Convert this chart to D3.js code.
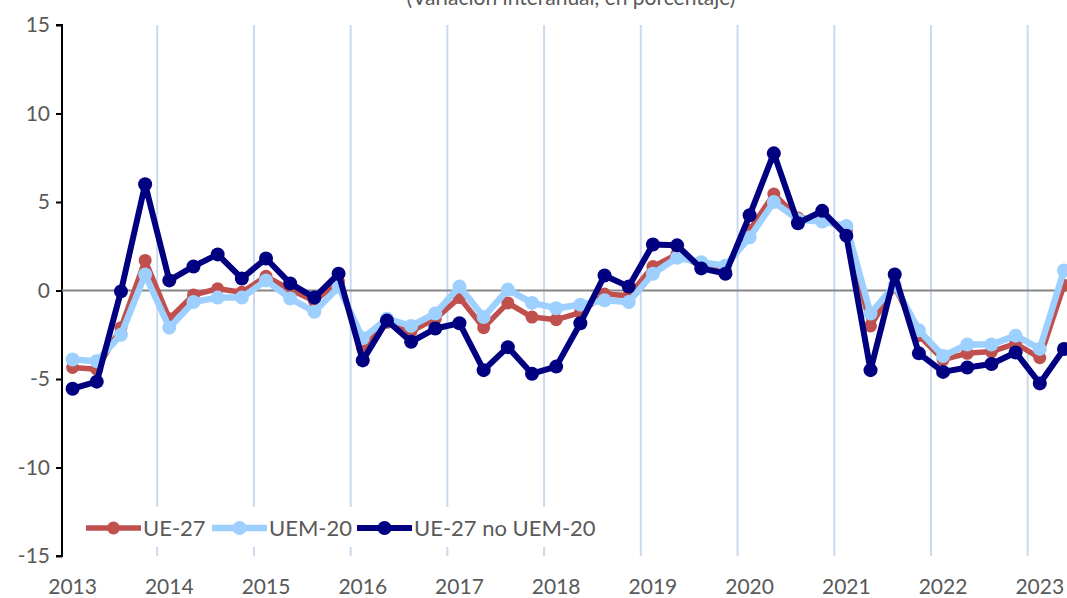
<!DOCTYPE html>
<html lang="es">
<head>
  <meta charset="utf-8">
  <title>UE-27 / UEM-20</title>
  <script src="https://d3js.org/d3.v7.min.js"></script>
  <style>
    body { margin: 0; background: #fff; }
    text { font-family: Lato, "Open Sans", sans-serif; fill: #595959; }
  </style>
</head>
<body>
  <script type="text/javascript">
  // trimestres 2013T1 .. 2023T2
  var years = ["2013","2014","2015","2016","2017","2018","2019","2020","2021","2022","2023"];
  var quarters = [];
  years.forEach(function(y){
    for (var q = 1; q <= 4; q++) quarters.push(y + "T" + q);
  });
  quarters = quarters.slice(0, 42);

  var ue27 = [-4.35,-4.45,-2.1,1.7,-1.6,-0.25,0.1,-0.1,0.8,0.05,-0.6,0.5,
              -3.3,-1.8,-2.3,-1.6,-0.4,-2.1,-0.7,-1.5,-1.65,-1.25,-0.2,-0.3,
              1.35,2.05,1.4,1.2,3.4,5.45,4.1,4.05,3.4,-2.0,0.2,-2.55,
              -3.9,-3.55,-3.45,-3.0,-3.8,0.3];
  var uem20 = [-3.9,-4.0,-2.5,0.9,-2.1,-0.65,-0.4,-0.4,0.57,-0.45,-1.2,0.2,
               -2.7,-1.6,-2.0,-1.3,0.22,-1.5,0.05,-0.7,-1.0,-0.8,-0.55,-0.65,
               0.95,1.85,1.6,1.4,3.0,5.0,4.0,3.9,3.65,-1.3,0.3,-2.25,
               -3.7,-3.05,-3.05,-2.55,-3.3,1.13];
  var ue27noUem = [-5.55,-5.15,-0.05,6.0,0.57,1.36,2.04,0.68,1.81,0.4,-0.4,0.95,
                   -3.95,-1.7,-2.9,-2.15,-1.85,-4.5,-3.2,-4.7,-4.3,-1.85,0.85,0.22,
                   2.6,2.55,1.25,0.95,4.25,7.75,3.8,4.5,3.1,-4.5,0.9,-3.55,
                   -4.6,-4.35,-4.15,-3.5,-5.25,-3.3];
  var seriesNames = ["UE-27","UEM-20","UE-27 no UEM-20"];
  var seriesColors = ["#C0504D","#9DCFFF","#000080"];
  var yTicks = [-15,-10,-5,0,5,10,15];

  var w = 1067;
  var h = 598;
  var left = 62;
  var step = 24.18;

  var svg = d3.select("body")
    .append("svg")
    .attr("width", w)
    .attr("height", h);

  var x = d3.scaleBand()
    .domain(quarters)
    .range([left - 1.5, left - 1.5 + quarters.length * step]);

  var y = d3.scaleLinear()
    .domain([-15, 15])
    .range([556, 25]);

  function cx(q){ return x(q) + x.bandwidth() / 2; }

  // titulo (cortado arriba)
  svg.append("text")
    .text("(Variación interanual, en porcentaje)")
    .attr("x", 571)
    .attr("y", 5)
    .attr("text-anchor", "middle")
    .attr("font-size", "21px");

  // lineas verticales de separacion de años
  svg.selectAll(".vgrid")
    .data(quarters.filter(function(q, i){ return i > 0 && i % 4 == 0; }))
    .enter()
    .append("line")
    .attr("class", "vgrid")
    .attr("x1", function(d){ return x(d); })
    .attr("x2", function(d){ return x(d); })
    .attr("y1", y(15))
    .attr("y2", y(-15))
    .attr("stroke", "#c9d9ee")
    .attr("stroke-width", 2);

  // eje y
  var yAxis = svg.append("g")
    .attr("transform", "translate(" + left + ",0)")
    .call(d3.axisLeft(y).tickValues(yTicks).tickSize(6).tickPadding(6)
      .tickFormat(function(d){ return String(d); }));
  yAxis.select(".domain").attr("stroke", "#000").attr("stroke-width", 2)
    .attr("d", "M-6," + y(15) + "H0V" + y(-15) + "H-6");
  yAxis.selectAll(".tick line").attr("stroke", "#000").attr("stroke-width", 2);
  yAxis.selectAll(".tick text")
    .attr("font-size", "21px")
    .attr("fill", "#595959")
    .attr("font-family", "Lato, sans-serif");

  // linea de cero
  svg.append("line")
    .attr("x1", left)
    .attr("x2", w)
    .attr("y1", y(0))
    .attr("y2", y(0))
    .attr("stroke", "#868686")
    .attr("stroke-width", 2);

  // etiquetas de año
  svg.selectAll(".xlab")
    .data(quarters.filter(function(q, i){ return i % 4 == 0; }))
    .enter()
    .append("text")
    .attr("class", "xlab")
    .text(function(d){ return d.slice(0, 4); })
    .attr("x", function(d){ return cx(d); })
    .attr("y", 594)
    .attr("text-anchor", "middle")
    .attr("font-size", "21px");

  // series
  var allData = [ue27, uem20, ue27noUem];
  var widths = [5.5, 6.5, 6];
  var radius = [6.5, 7, 7];
  var line = d3.line()
    .x(function(d, i){ return cx(quarters[i]); })
    .y(function(d){ return y(d); });

  allData.forEach(function(data, k){
    svg.append("path")
      .datum(data)
      .attr("d", line)
      .attr("fill", "none")
      .attr("stroke", seriesColors[k])
      .attr("stroke-width", widths[k])
      .attr("stroke-linejoin", "round");
    svg.selectAll(".dot" + k)
      .data(data)
      .enter()
      .append("circle")
      .attr("class", "dot" + k)
      .attr("cx", function(d, i){ return cx(quarters[i]); })
      .attr("cy", function(d){ return y(d); })
      .attr("r", radius[k])
      .attr("fill", seriesColors[k]);
  });

  // leyenda
  svg.append("rect")
    .attr("x", 78)
    .attr("y", 507)
    .attr("width", 512)
    .attr("height", 40)
    .attr("fill", "#fff");

  var legendX = [86, 212, 357];
  seriesNames.forEach(function(name, k){
    var g = svg.append("g").attr("transform", "translate(" + legendX[k] + ",528)");
    g.append("line")
      .attr("x1", 0).attr("x2", 55)
      .attr("y1", 0).attr("y2", 0)
      .attr("stroke", seriesColors[k])
      .attr("stroke-width", widths[k]);
    g.append("circle")
      .attr("cx", 27.5).attr("cy", 0)
      .attr("r", radius[k])
      .attr("fill", seriesColors[k]);
    g.append("text")
      .text(name)
      .attr("x", 57)
      .attr("y", 8)
      .attr("font-size", "22px");
  });
  </script>
</body>
</html>
